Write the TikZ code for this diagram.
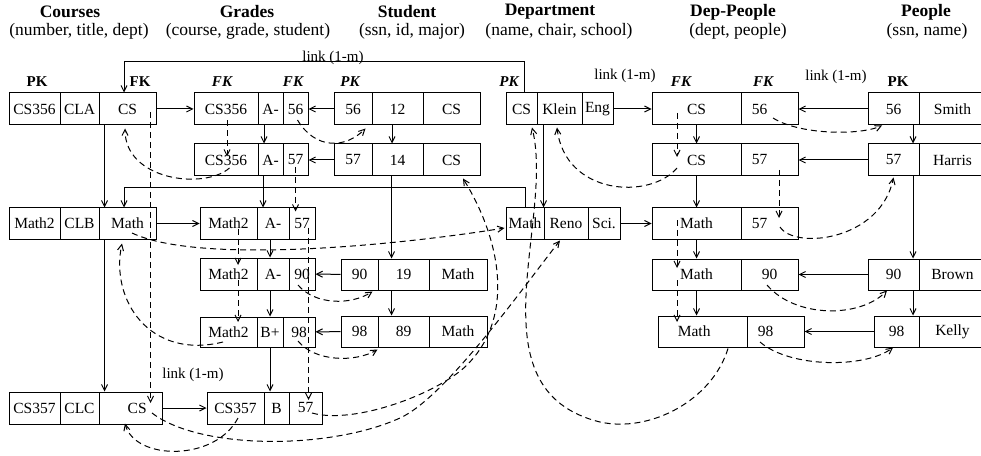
\documentclass[tikz,border=0pt]{standalone}
\usepackage{fontspec}
\setmainfont{Liberation Serif}
\usetikzlibrary{arrows.meta,calc}
\newcommand{\boxfont}{\fontsize{9.3}{11}\selectfont}
\newcommand{\tcell}[6]{\node[cell,minimum width={(#3-#2)*0.6pt},minimum height={(#5-#4)*0.6pt}] (#1) at ({(#2+#3)/2},{(#4+#5)/2}) {#6};}
\begin{document}
\begin{tikzpicture}[x=0.6pt,y=-0.6pt,line width=0.6pt,
  >={Straight Barb[length=3.6pt,width=3.6pt]},
  cell/.style={draw,inner sep=0pt,font=\boxfont},
  fkarrow/.style={->},
  dashref/.style={->,dash pattern=on 3.6pt off 2.4pt},
  tbltitle/.style={font=\fontsize{10.5}{12}\selectfont\bfseries},
  tblsub/.style={font=\fontsize{10.5}{12}\selectfont},
  keylbl/.style={font=\fontsize{9}{11}\selectfont\bfseries},
  linklbl/.style={font=\fontsize{9}{11}\selectfont}]
\useasboundingbox (0,0) rectangle (981,456);

\node[tbltitle] (tcou) at (70,12) {Courses};
\node[tblsub] (scou) at (79,31) {(number, title, dept)};
\node[tbltitle] (tgra) at (247,12) {Grades};
\node[tblsub] (sgra) at (248,31) {(course, grade, student)};
\node[tbltitle] (tstu) at (407,12) {Student};
\node[tblsub] (sstu) at (412,31) {(ssn, id, major)};
\node[tbltitle] (tdep) at (550,12) {Department};
\node[tblsub] (sdep) at (559,31) {(name, chair, school)};
\node[tbltitle] (tdpp) at (733,12) {Dep-People};
\node[tblsub] (sdpp) at (738,31) {(dept, people)};
\node[tbltitle] (tpeo) at (926,12) {People};
\node[tblsub] (speo) at (927,31) {(ssn, name)};

\node[keylbl] (k1) at (37,82) {PK};
\node[keylbl] (k2) at (140,82) {FK};
\node[keylbl] (k3) at (222,82) {\itshape FK};
\node[keylbl] (k4) at (293,82) {\itshape FK};
\node[keylbl] (k5) at (350,82) {\itshape PK};
\node[keylbl] (k6) at (509,82) {\itshape PK};
\node[keylbl] (k7) at (681,82) {\itshape FK};
\node[keylbl] (k8) at (763,82) {\itshape FK};
\node[keylbl] (k9) at (898,82) {PK};

% Courses
\tcell{c1a}{9}{60}{93}{125}{CS356}
\tcell{c1b}{60}{99}{93}{125}{CLA}
\tcell{c1c}{99}{156}{93}{125}{CS}
\tcell{c2a}{9}{60}{208}{239}{Math2}
\tcell{c2b}{60}{99}{208}{239}{CLB}
\tcell{c2c}{99}{156}{208}{239}{Math}
\tcell{c3a}{9}{60}{392}{424}{CS357}
\tcell{c3b}{60}{99}{392}{424}{CLC}
\tcell{c3c}{99}{162}{392}{424}{\hspace*{8pt}CS}
% Grades
\tcell{g1a}{194}{258}{93}{125}{CS356}
\tcell{g1b}{258}{283}{93}{125}{A-}
\tcell{g1c}{283}{308}{93}{125}{56}
\tcell{g2a}{194}{258}{144}{176}{CS356}
\tcell{g2b}{258}{283}{144}{176}{A-}
\tcell{g2c}{283}{308}{144}{176}{57}
\tcell{g3a}{200}{257}{208}{239}{Math2}
\tcell{g3b}{257}{289}{208}{239}{A-}
\tcell{g3c}{289}{315}{208}{239}{57}
\tcell{g4a}{200}{257}{258}{290}{Math2}
\tcell{g4b}{257}{289}{258}{290}{A-}
\tcell{g4c}{289}{315}{258}{290}{90}
\tcell{g5a}{200}{257}{317}{347}{Math2}
\tcell{g5b}{257}{283}{317}{347}{B+}
\tcell{g5c}{283}{315}{317}{347}{98}
\tcell{g6a}{207}{264}{392}{424}{CS357}
\tcell{g6b}{264}{289}{392}{424}{B}
\tcell{g6c}{289}{322}{392}{424}{57}
% Student
\tcell{s1a}{334}{372}{93}{125}{56}
\tcell{s1b}{372}{423}{93}{125}{12}
\tcell{s1c}{423}{480}{93}{125}{CS}
\tcell{s2a}{334}{372}{144}{176}{57}
\tcell{s2b}{372}{423}{144}{176}{14}
\tcell{s2c}{423}{480}{144}{176}{CS}
\tcell{s3a}{341}{378}{259}{290}{90}
\tcell{s3b}{378}{429}{259}{290}{19}
\tcell{s3c}{429}{487}{259}{290}{Math}
\tcell{s4a}{341}{378}{316}{347}{98}
\tcell{s4b}{378}{429}{316}{347}{89}
\tcell{s4c}{429}{487}{316}{347}{Math}
% Department
\tcell{d1a}{506}{537}{93}{125}{CS}
\tcell{d1b}{537}{582}{93}{125}{Klein}
\tcell{d1c}{582}{613}{93}{125}{Eng}
\tcell{d2a}{506}{544}{208}{239}{Math}
\tcell{d2b}{544}{588}{208}{239}{Reno}
\tcell{d2c}{588}{620}{208}{239}{Sci.}
% Dep-People
\tcell{p1a}{652}{741}{93}{125}{CS}
\tcell{p1b}{741}{798}{93}{125}{56\hspace*{12pt}}
\tcell{p2a}{652}{741}{144}{176}{CS}
\tcell{p2b}{741}{798}{144}{176}{57\hspace*{12pt}}
\tcell{p3a}{652}{741}{208}{239}{Math}
\tcell{p3b}{741}{798}{208}{239}{57\hspace*{12pt}}
\tcell{p4a}{652}{741}{259}{290}{Math}
\tcell{p4b}{741}{798}{259}{290}{90}
\tcell{p5a}{658}{747}{316}{347}{Math\hspace*{10pt}}
\tcell{p5b}{747}{804}{316}{347}{98\hspace*{12pt}}
% People
\tcell{e1a}{868}{919}{93}{125}{56}
\tcell{e1b}{919}{986}{93}{125}{Smith}
\tcell{e2a}{868}{919}{144}{176}{57}
\tcell{e2b}{919}{986}{144}{176}{Harris}
\tcell{e3a}{868}{919}{259}{290}{90}
\tcell{e3b}{919}{986}{259}{290}{Brown}
\tcell{e4a}{874}{919}{316}{347}{98}
\tcell{e4b}{919}{986}{316}{347}{Kelly}

% links
\draw[fkarrow] ($(d1a.north)+(2.5,0)$) -- ++(0,-31) -| ($(c1c.north)+(-3.5,0)$);
\node[linklbl,anchor=base] (l1) at (333,61.5) {link (1-m)};
\node[linklbl] (l2) at (625,76) {link (1-m)};
\node[linklbl] (l3) at (836,77) {link (1-m)};
\node[linklbl] (l4) at (193,375) {link (1-m)};
\draw[fkarrow] (c1c) -- (g1a);
\draw[fkarrow] ($(g1b.south)+(-6.5,0)$) -- ($(g1b.south |- g2b.north)+(-6.5,0)$);
\draw[fkarrow] (s1a) -- (g1c);
\draw[fkarrow] (s2a) -- (g2c);
\draw[fkarrow] ($(s1b.south)+(-5.5,0)$) -- ($(s1b.south |- s2b.north)+(-5.5,0)$);
\draw[fkarrow] ($(s2b.south)+(-6,0)$) -- ($(s2b.south |- s3b.north)+(-6,0)$);
\draw[fkarrow] ($(s3b.south)+(-12,0)$) -- ($(s3b.south |- s4b.north)+(-12,0)$);
\draw[fkarrow] (d1b.south -| d2b.north west) -- (d2b.north west);
\draw[fkarrow] (d1c) -- (p1a);
\draw[fkarrow] (d2c) -- (p3a);
\draw[fkarrow] (e1a) -- (p1b);
\draw[fkarrow] (e2a) -- (p2b);
\draw[fkarrow] (e3a) -- (p4b);
\draw[fkarrow] (e4a) -- (p5b);
\draw[fkarrow] ($(e1a.south)+(19.5,0)$) -- ($(e1a.south |- e2a.north)+(19.5,0)$);
\draw[fkarrow] ($(e2a.south)+(19.5,0)$) -- ($(e2a.south |- e3a.north)+(19.5,0)$);
\draw[fkarrow] ($(e3a.south)+(19.5,0)$) -- ($(e3a.south |- e4a.north)+(19.5,0)$);
\draw[fkarrow] (p1a) -- (p2a);
\draw[fkarrow] (p2a) -- (p3a);
\draw[fkarrow] (p3a) -- (p4a);
\draw[fkarrow] (p4a.south) -- (p4a.south |- p5a.north);
\draw[fkarrow] ($(c1c.south west)+(6,0)$) -- ($(c1c.south west |- c2c.north)+(6,0)$);
\draw[fkarrow] ($(c2c.south west)+(6,0)$) -- ($(c2c.south west |- c3c.north)+(6,0)$);
\draw[fkarrow] (d2a.north) -- ++(0,-20) -| ($(c2c.north)+(-3.5,0)$);
\draw[fkarrow] (c2c) -- (g3a);
\draw[fkarrow] ($(g2b.south)+(-7.5,0)$) -- ($(g2b.south |- g3b.north)+(-7.5,0)$);
\draw[fkarrow] ($(g3b.south)+(-3,0)$) -- ($(g3b.south |- g4b.north)+(-3,0)$);
\draw[fkarrow] ($(g4b.south)+(-3,0)$) -- ($(g4b.south |- g5b.north)+(-3,0)$);
\draw[fkarrow] (g5b.south) -- (g5b.south |- g6b.north);
\draw[fkarrow] (s3a) -- (g4c);
\draw[fkarrow] (s4a) -- (g5c);
\draw[fkarrow] (c3c) -- (g6a);

% references
\draw[dashref] ($(g1a.south)+(1,-5)$) -- ($(g1a.south |- g2a.north)+(1,13)$);
\draw[dashref] ($(c1c.east)+(-6,3)$) -- ($(c1c.east |- c3c.center)+(-6,-5)$);
\draw[dashref] ($(g2a.center)+(3.5,8)$) .. controls +(-25,22) and +(0,52) .. ($(c1c.south)+(-2.5,3)$);
\draw[dashref] ($(g1c.center)+(2,11)$) .. controls +(18,30) and +(-20,20) .. ($(s1a.south east)+(-7,3)$);
\draw[dashref] ($(g2c.center)+(0,7)$) -- ($(g2c.center |- g3c.north)+(0,4)$);
\draw[dashref] ($(g3c.east)+(-7,4)$) -- ($(g3c.east |- g6c.center)+(-7,-8)$);
\draw[dashref] ($(g3a.center)+(9.5,5)$) -- ($(g3a.center |- g4a.center)+(9.5,-9)$);
\draw[dashref] ($(g4a.center)+(9.5,6)$) -- ($(g4a.center |- g5a.center)+(9.5,-10)$);
\draw[dashref] ($(c2c.center)+(4.5,9.5)$) .. controls +(68,32) and +(-105,17) .. ($(d2a.west)+(-1,4.5)$);
\draw[dashref] ($(g5a.center)+(-5.5,10)$) .. controls +(-73,18) and +(-12,57) .. ($(c2c.south)+(-5.5,4)$);
\draw[dashref] ($(g4c.center)+(-4,11)$) .. controls +(17,20) and +(-22,14) .. ($(s3a.south east)+(-6,1)$);
\draw[dashref] ($(g5c.center)+(-1,9)$) .. controls +(17,21) and +(-22,13) .. ($(s4a.south east)+(-1,2)$);
\draw[dashref] ($(c3c.center)+(21.5,5)$) .. controls +(48,37) and +(-70,32) .. (400,418)
  .. controls +(45.5,-20.5) and +(-37,47) .. ($(d2b.south)+(-6,1)$);
\draw[dashref] ($(g6c.center)+(6.5,5)$) .. controls +(43,12) and +(-28,28) .. (467,365)
  .. controls +(49,-49) and +(37,59.5) .. ($(s2c.south)+(11.5,2)$);
\draw[dashref] ($(g6a.center)+(2.5,10)$) .. controls +(-23,44) and +(10,37) .. ($(c3c.south)+(-5.5,-1)$);
\draw[dashref] ($(p1a.center)+(-19.5,4)$) -- ($(p1a.center |- p2a.center)+(-19.5,-3)$);
\draw[dashref] ($(p2a.center)+(-19.5,8)$) .. controls +(-27,32) and +(8,68) .. ($(d1b.south)+(-2.5,2)$);
\draw[dashref] ($(p3a.center)+(-19.5,-3.5)$) -- ($(p3a.center |- p4a.center)+(-19.5,-6.5)$);
\draw[dashref] ($(p4a.center)+(-19.5,5.5)$) -- ($(p4a.center |- p5a.center)+(-19.5,-9.5)$);
\draw[dashref] ($(p2b.center)+(9.5,10)$) -- ($(p2b.center |- p3b.center)+(9.5,-5.5)$);
\draw[dashref] ($(p3b.center)+(10.5,3.5)$) .. controls +(15,23) and +(-13,63) .. ($(e2a.south)+(0,1)$);
\draw[dashref] ($(p1b.center)+(3.5,9)$) .. controls +(27,17) and +(-22,10) .. ($(e1a.south)+(-11.5,0)$);
\draw[dashref] ($(p4b.center)+(-2.5,10.5)$) .. controls +(28,33) and +(-27,28) .. ($(e3a.south)+(-6.5,0)$);
\draw[dashref] ($(p5b.center)+(-15.5,10.5)$) .. controls +(30,26) and +(-28,21) .. ($(e4a.south)+(-3.5,0)$);
\draw[dashref] ($(p5a.south)+(25.5,1)$) .. controls +(-16,52) and +(50,11) .. (600,422)
  .. controls +(-130,-32) and +(23,93) .. ($(d1a.south)+(10.5,2)$);
\end{tikzpicture}
\end{document}
